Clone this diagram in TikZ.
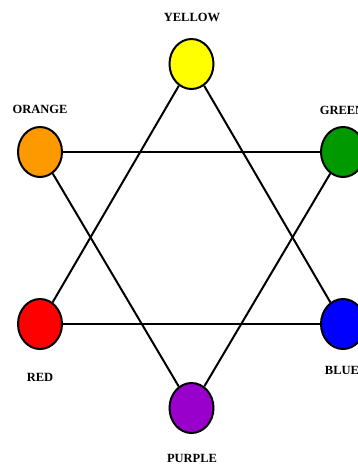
\documentclass[tikz,border=0pt]{standalone}
\usepackage{fontspec}
\setmainfont{Liberation Serif}
\usetikzlibrary{shapes.geometric}
\definecolor{cyellow}{HTML}{FFFF00}
\definecolor{corange}{HTML}{FF9900}
\definecolor{cgreen}{HTML}{009900}
\definecolor{cred}{HTML}{FF0000}
\definecolor{cblue}{HTML}{0000FF}
\definecolor{cpurple}{HTML}{9900CC}
\tikzset{
  dot/.style={ellipse, draw=black, line width=2pt, minimum width=44pt, minimum height=50pt, inner sep=0pt},
  lab/.style={font=\fontsize{12.5pt}{14pt}\selectfont\bfseries, inner sep=0pt},
  edge/.style={draw=black, line width=2pt}
}
\begin{document}
\begin{tikzpicture}[x=1pt,y=-1pt]
\useasboundingbox (0,0) rectangle (358,466);
\node[dot, fill=cyellow] (y) at (191.5,64) {};
\node[dot, fill=corange] (o) at (40,152) {};
\node[dot, fill=cgreen] (g) at (343,152) {};
\node[dot, fill=cred] (r) at (40,324) {};
\node[dot, fill=cblue] (b) at (343,324) {};
\node[dot, fill=cpurple] (p) at (191.5,408) {};
\node[lab] (ly) at (192,17) {YELLOW};
\node[lab] (lo) at (40,109) {ORANGE};
\node[lab] (lg) at (342,110) {GREEN};
\node[lab] (lr) at (40,377) {RED};
\node[lab] (lb) at (342,370) {BLUE};
\node[lab] (lp) at (192,458) {PURPLE};
\draw[edge] (y) -- (r);
\draw[edge] (y) -- (b);
\draw[edge] (r) -- (b);
\draw[edge] (o) -- (g);
\draw[edge] (o) -- (p);
\draw[edge] (g) -- (p);
\end{tikzpicture}
\end{document}
